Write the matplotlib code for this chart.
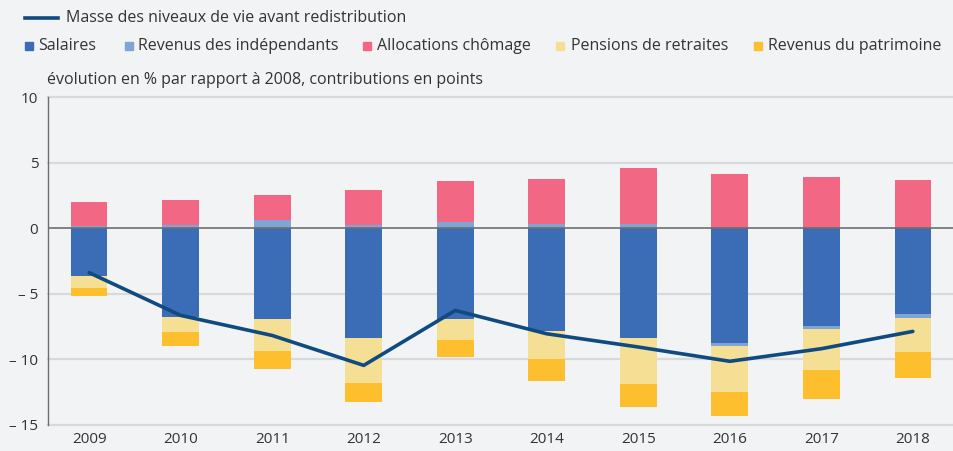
import matplotlib
matplotlib.use("Agg")
import matplotlib.pyplot as plt
from matplotlib.patches import Rectangle
from matplotlib.lines import Line2D
import numpy as np

years = ["2009", "2010", "2011", "2012", "2013", "2014", "2015", "2016", "2017", "2018"]
salaires = [-3.63, -6.75, -6.95, -8.39, -6.95, -7.86, -8.39, -8.72, -7.45, -6.54]
independants = [0.17, 0.28, 0.61, 0.25, 0.48, 0.35, 0.35, -0.25, -0.21, -0.33]
chomage = [1.85, 1.87, 1.97, 2.69, 3.12, 3.45, 4.24, 4.13, 3.93, 3.72]
pensions = [-0.91, -1.14, -2.38, -3.37, -1.60, -2.13, -3.50, -3.48, -3.12, -2.56]
patrimoine = [-0.63, -1.09, -1.42, -1.45, -1.29, -1.65, -1.75, -1.88, -2.20, -2.01]
masse = [-3.38, -6.64, -8.17, -10.45, -6.26, -8.04, -9.05, -10.14, -9.18, -7.86]

series = [
    ("Salaires", salaires, "#3a6db5"),
    ("Revenus des indépendants", independants, "#80a5d4"),
    ("Allocations chômage", chomage, "#f26884"),
    ("Pensions de retraites", pensions, "#f5df94"),
    ("Revenus du patrimoine", patrimoine, "#fdbf2d"),
]
line_label = "Masse des niveaux de vie avant redistribution"
line_color = "#0f4a80"
yticks = [10, 5, 0, -5, -10, -15]
ytick_labels = ["10", "5", "0", "\u2013 5", "\u2013 10", "\u2013 15"]
subtitle = "évolution en % par rapport à 2008, contributions en points"

plt.rcParams["font.family"] = ["Open Sans", "DejaVu Sans"]
bg = "#f2f3f5"
txt = "#333333"

fig = plt.figure(figsize=(9.54, 4.51), dpi=100, facecolor=bg)
ax = fig.add_axes([48/954, (451-425)/451, 1 - 48/954, (425-97.3)/451])
ax.set_facecolor(bg)

x = np.arange(len(years))
pos = np.zeros(len(years))
neg = np.zeros(len(years))
w = 0.40
for name, vals, col in series:
    v = np.array(vals)
    bottoms = np.where(v >= 0, pos, neg)
    ax.bar(x, v, width=w, bottom=bottoms, color=col, edgecolor="none", zorder=3)
    pos = pos + np.where(v >= 0, v, 0)
    neg = neg + np.where(v < 0, v, 0)

ax.plot(x, masse, color=line_color, lw=2.6, zorder=5, solid_capstyle="round")

ax.set_xlim(-0.45, 9.45)
ax.set_ylim(-15, 10)
ax.set_yticks(yticks)
ax.set_yticklabels(ytick_labels)
ax.set_xticks(x)
ax.set_xticklabels(years)
for t in yticks:
    if t == 0:
        ax.axhline(0, color="#6e6e6e", lw=1.2, zorder=4)
    else:
        ax.axhline(t, color="#d8d9db", lw=1.6, zorder=1, clip_on=False)
for s in ["top", "right", "bottom"]:
    ax.spines[s].set_visible(False)
ax.spines["left"].set_color("#6e6e6e")
ax.spines["left"].set_linewidth(1.0)
ax.tick_params(axis="both", length=0, labelsize=11, colors=txt)
ax.tick_params(axis="y", pad=7)
ax.tick_params(axis="x", pad=5)

# legend (manual placement)
fs = 11.5
fig.add_artist(Line2D([25/954, 58/954], [1 - 18/451, 1 - 18/451], color=line_color, lw=2.6,
                      transform=fig.transFigure))
fig.text(66/954, 1 - 18/451, line_label, fontsize=fs, color=txt, va="center", ha="left")
sq_x = [25, 125, 363, 556, 754]
tx_x = [38, 138, 377, 571, 768]
sq = 8
for (name, vals, col), sx, tx in zip(series, sq_x, tx_x):
    fig.add_artist(Rectangle((sx/954, 1 - (46 + sq/2)/451), sq/954, sq/451, color=col,
                             transform=fig.transFigure))
    fig.text(tx/954, 1 - 46/451, name, fontsize=fs, color=txt, va="center", ha="left")
fig.text(47/954, 1 - 80/451, subtitle, fontsize=fs, color=txt, va="center", ha="left")

fig.savefig("out.png", dpi=100, facecolor=bg)
